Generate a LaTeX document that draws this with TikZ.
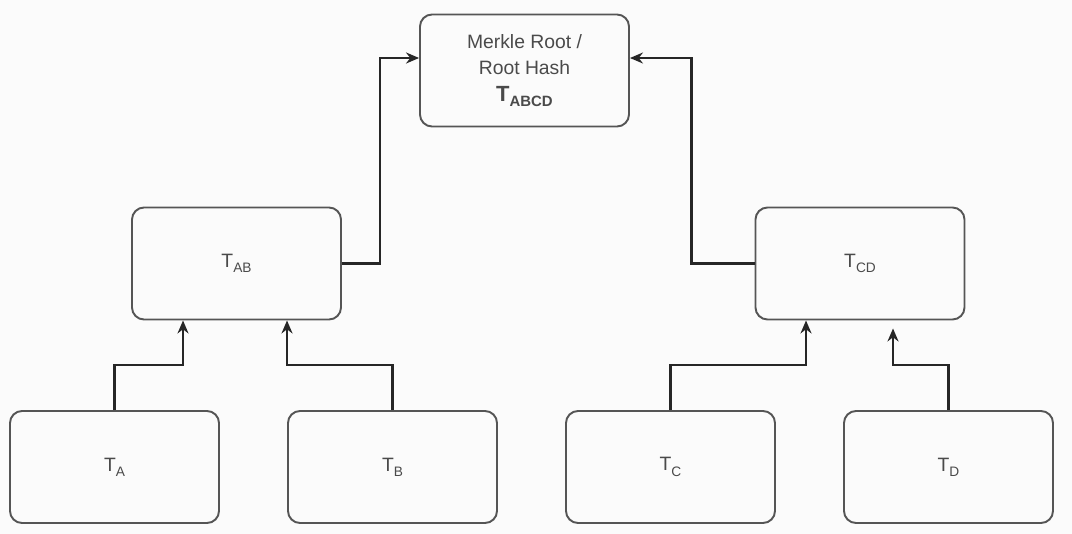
\documentclass[tikz,border=0pt]{standalone}
\usepackage{fontspec}
\setmainfont{Liberation Sans}
\usetikzlibrary{arrows.meta}

\definecolor{boxline}{HTML}{555555}
\definecolor{txt}{HTML}{4A4A4A}
\definecolor{paper}{HTML}{FBFBFB}
\newcommand{\hname}[1]{T\raisebox{-3pt}{\fontsize{7.8}{8}\selectfont #1}}

\tikzset{
  hbox/.style={draw=boxline, line width=1.1pt, rounded corners=0.24cm,
    minimum width=4.18cm, minimum height=2.24cm, align=center,
    text=txt, font=\fontsize{11}{15}\selectfont},
  up/.style={-{Stealth[length=2.6mm,width=2.2mm]}, line width=1.2pt, draw=black!85}
}

\begin{document}
\begin{tikzpicture}[node distance=5.56cm]
 \fill[paper] (0,0) rectangle (21.44,-10.68);
 \useasboundingbox (0,0) rectangle (21.44,-10.68);
 \node[hbox] (TA) at (2.29,-9.34) {\hname{A}};
 \node[hbox] (TB) [right of=TA] {\hname{B}};
 \node[hbox] (TC) [right of=TB] {\hname{C}};
 \node[hbox] (TD) [right of=TC] {\hname{D}};
 \node[hbox] (TAB) at (4.73,-5.27) {\hname{AB}};
 \node[hbox] (TCD) at (17.2,-5.27) {\hname{CD}};
 \node[hbox] (Root) at (10.49,-1.41) {Merkle Root /\\Root Hash\\
   {\fontsize{12.5}{14}\selectfont\bfseries T\raisebox{-3pt}{\fontsize{8.5}{9}\selectfont ABCD}}};
 \draw[up] (TA.north) -- ++(0,0.9) -| ([xshift=-1.07cm]TAB.south);
 \draw[up] (TB.north) -- ++(0,0.9) -| ([xshift=1.01cm]TAB.south);
 \draw[up] (TC.north) -- ++(0,0.9) -| ([xshift=-1.08cm]TCD.south);
 \draw[up, shorten >=0.16cm] (TD.north) -- ++(0,0.9) -| ([xshift=0.66cm]TCD.south);
 \draw[up] (TAB.east) -- ++(0.76,0) |- ([yshift=0.25cm]Root.west);
 \draw[up] (TCD.west) -- ++(-1.26,0) |- ([yshift=0.25cm]Root.east);
\end{tikzpicture}
\end{document}
